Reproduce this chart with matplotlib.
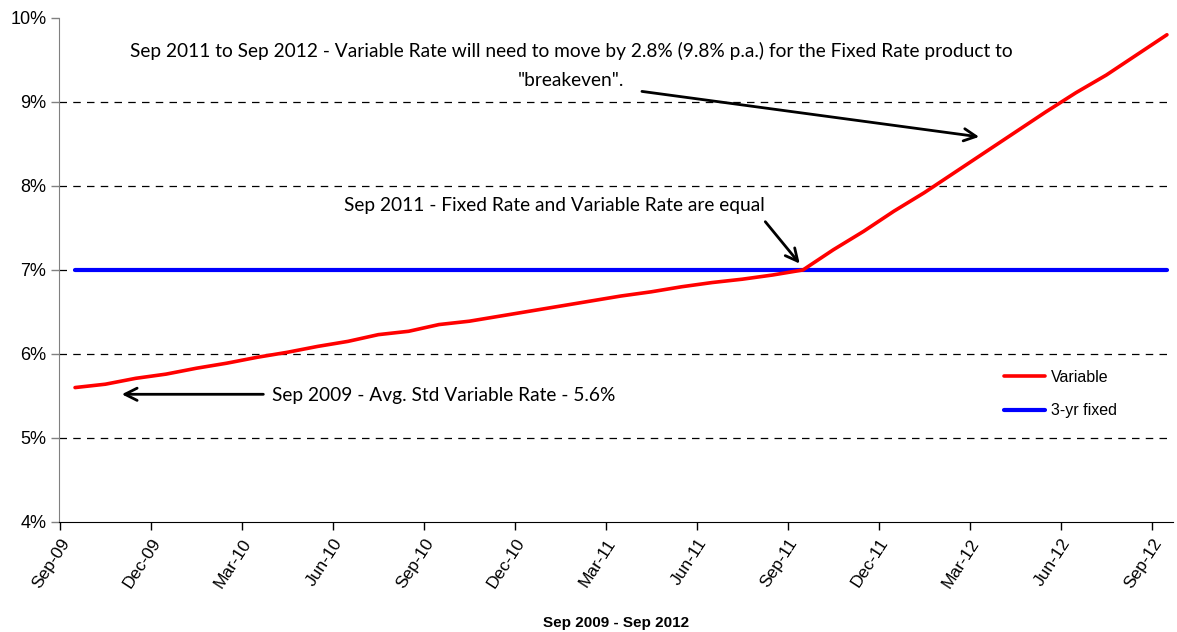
import matplotlib.pyplot as plt
import numpy as np

# monthly points Sep-09 .. Sep-12
months = ["Sep-09", "Oct-09", "Nov-09", "Dec-09", "Jan-10", "Feb-10", "Mar-10", "Apr-10",
          "May-10", "Jun-10", "Jul-10", "Aug-10", "Sep-10", "Oct-10", "Nov-10", "Dec-10",
          "Jan-11", "Feb-11", "Mar-11", "Apr-11", "May-11", "Jun-11", "Jul-11", "Aug-11",
          "Sep-11", "Oct-11", "Nov-11", "Dec-11", "Jan-12", "Feb-12", "Mar-12", "Apr-12",
          "May-12", "Jun-12", "Jul-12", "Aug-12", "Sep-12"]
variable = [5.60, 5.64, 5.71, 5.76, 5.83, 5.89, 5.96, 6.02, 6.09, 6.15, 6.23, 6.27,
            6.35, 6.39, 6.45, 6.51, 6.57, 6.63, 6.69, 6.74, 6.80, 6.85, 6.89, 6.94,
            7.00, 7.24, 7.46, 7.70, 7.92, 8.16, 8.40, 8.64, 8.88, 9.11, 9.32, 9.56, 9.80]
fixed = [7.0] * len(months)
tick_labels = months[::3]

x = np.arange(len(months))

fig = plt.figure(figsize=(11.77, 6.32), dpi=100)
ax = fig.add_axes([0.0501, 0.1741, 0.9465, 0.7975])

for yv in [5, 6, 7, 8, 9]:
    ax.axhline(yv, color="black", lw=0.9, ls=(0, (6, 5)), zorder=1)

ax.plot(x, variable, color="#ff0000", lw=2.6, label="Variable", zorder=3,
        solid_capstyle="round")
ax.plot(x, fixed, color="#0000ff", lw=3.0, label="3-yr fixed", zorder=2,
        solid_capstyle="round")

ax.set_ylim(4, 10)
ax.set_xlim(-0.53, 36.2)
ax.set_yticks(range(4, 11))
ax.set_yticklabels([f"{v}%" for v in range(4, 11)], fontsize=13,
                   family="Liberation Sans")
ax.set_xticks(x[::3] - 0.5)
ax.set_xticklabels(tick_labels, rotation=57, ha="right", rotation_mode="anchor",
                   fontsize=12.5, family="Liberation Sans")
ax.tick_params(axis="y", length=6, color="#808080", width=1, pad=3)
ax.tick_params(axis="x", length=6, color="black", width=1, pad=4)

for s in ["top", "right"]:
    ax.spines[s].set_visible(False)
ax.spines["left"].set_color("#808080")
ax.spines["bottom"].set_color("black")

ax.set_xlabel("Sep 2009 - Sep 2012", fontsize=11, fontweight="bold",
              family="Liberation Sans", labelpad=18)

ax.legend(loc="upper left", bbox_to_anchor=(0.835, 0.33), frameon=False,
          prop={"family": "Liberation Sans", "size": 11.5}, handlelength=2.6,
          handletextpad=0.35, labelspacing=1.15)

txt = dict(fontsize=13.8, family="Lato", color="black")
ax.text(16.35, 9.43, 'Sep 2011 to Sep 2012 - Variable Rate will need to move by 2.8% (9.8% p.a.) for the Fixed Rate product to\n"breakeven".',
        ha="center", va="center", linespacing=1.85, **txt)
ax.annotate("", xy=(29.9, 8.58), xytext=(18.6, 9.13),
            arrowprops=dict(arrowstyle="->", color="black", lw=2,
                            mutation_scale=22))

ax.text(15.8, 7.77, "Sep 2011 - Fixed Rate and Variable Rate are equal",
        ha="center", va="center", **txt)
ax.annotate("", xy=(23.95, 7.05), xytext=(22.7, 7.6),
            arrowprops=dict(arrowstyle="->", color="black", lw=2,
                            mutation_scale=22))

ax.text(6.5, 5.51, "Sep 2009 - Avg. Std Variable Rate - 5.6%",
        ha="left", va="center", **txt)
ax.annotate("", xy=(1.45, 5.52), xytext=(6.3, 5.52),
            arrowprops=dict(arrowstyle="->", color="black", lw=2,
                            mutation_scale=22))

fig.savefig("out.png", dpi=100)
